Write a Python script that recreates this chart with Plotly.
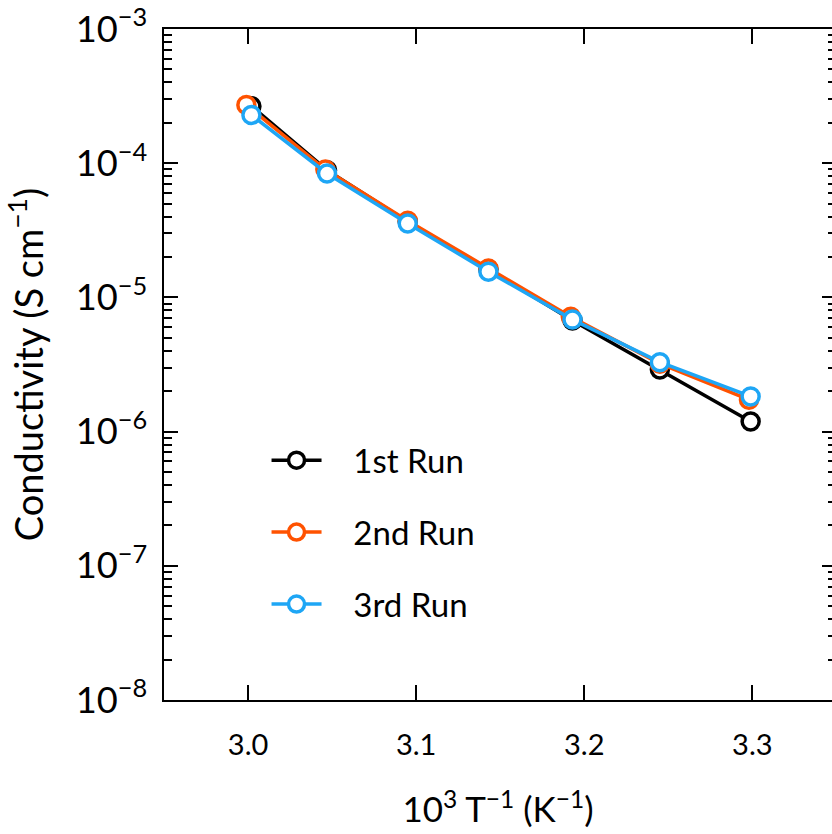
import plotly.graph_objects as go

# Data
x_run1 = [3.002, 3.047, 3.095, 3.143, 3.193, 3.245, 3.299]
y_run1 = [2.66e-4, 8.87e-5, 3.66e-5, 1.62e-5, 6.73e-6, 2.90e-6, 1.19e-6]

x_run2 = [2.999, 3.046, 3.095, 3.143, 3.192, 3.245, 3.298]
y_run2 = [2.72e-4, 8.97e-5, 3.73e-5, 1.64e-5, 7.18e-6, 3.21e-6, 1.73e-6]

x_run3 = [3.002, 3.047, 3.095, 3.143, 3.193, 3.245, 3.299]
y_run3 = [2.29e-4, 8.38e-5, 3.55e-5, 1.556e-5, 6.83e-6, 3.29e-6, 1.83e-6]

names = ["1st Run", "2nd Run", "3rd Run"]
colors = ["#000000", "#ff5200", "#1ea6f5"]

x_tickvals = [3.0, 3.1, 3.2, 3.3]
x_ticktext = ["3.0", "3.1", "3.2", "3.3"]

FONT = "Lato"

fig = go.Figure()
for i, (xs, ys) in enumerate([(x_run1, y_run1), (x_run2, y_run2), (x_run3, y_run3)]):
    fig.add_trace(go.Scatter(
        x=xs, y=ys, name="\u2003\u200a" + names[i], mode="lines+markers",
        line=dict(color=colors[i], width=3.5),
        marker=dict(symbol="circle", size=17, color="white",
                    line=dict(color=colors[i], width=3.5)),
        legendgroup=names[i],
    ))

# invisible trace for the mirrored right-hand axis
fig.add_trace(go.Scatter(x=[], y=[], yaxis="y2", showlegend=False, hoverinfo="skip"))

tickfont = dict(family=FONT, size=29, color="black")

fig.update_layout(
    width=832, height=834,
    margin=dict(l=164, r=0, t=29, b=134),
    paper_bgcolor="white", plot_bgcolor="white",
    showlegend=True,
    legend=dict(
        x=0.1535, y=0.399, xanchor="left", yanchor="top",
        font=dict(family=FONT, size=33, color="black"),
        bgcolor="rgba(0,0,0,0)", traceorder="grouped",
        tracegroupgap=26, itemwidth=50,
    ),
    xaxis=dict(
        range=[2.95, 3.3474], tickvals=x_tickvals, ticktext=x_ticktext,
        ticks="inside", ticklen=15, tickwidth=2, tickcolor="black",
        showline=True, linecolor="black", linewidth=2, mirror="ticks",
        showgrid=False, zeroline=False, tickfont=tickfont,
        ticklabelstandoff=18,
        title=dict(text="10<sup>3</sup> T<sup>−1</sup> (K<sup>−1</sup>)",
                   font=dict(family=FONT, size=35, color="black"), standoff=38),
    ),
    yaxis=dict(
        type="log", range=[-8, -3], dtick=1, exponentformat="power",
        ticks="inside", ticklen=14, tickwidth=2, tickcolor="black",
        showline=True, linecolor="black", linewidth=2, mirror=False,
        showgrid=False, zeroline=False, tickfont=tickfont,
        ticklabelstandoff=9,
        minor=dict(ticks="inside", ticklen=8, tickwidth=2, tickcolor="black",
                   dtick="D1", showgrid=False),
        title=dict(text="Conductivity (S cm<sup>−1</sup>)",
                   font=dict(family=FONT, size=38, color="black"), standoff=20),
    ),
    yaxis2=dict(
        type="log", range=[-8, -3], dtick=1, overlaying="y", side="right",
        anchor="x", showline=False, showticklabels=False,
        ticks="inside", ticklen=10, tickwidth=2, tickcolor="black",
        showgrid=False, zeroline=False,
        minor=dict(ticks="inside", ticklen=4, tickwidth=2, tickcolor="black",
                   dtick="D1", showgrid=False),
    ),
)

fig.write_html(
    "out.html",
    config={"displayModeBar": False},
    post_script="document.body.style.margin='0';document.body.style.overflow='hidden';",
)
